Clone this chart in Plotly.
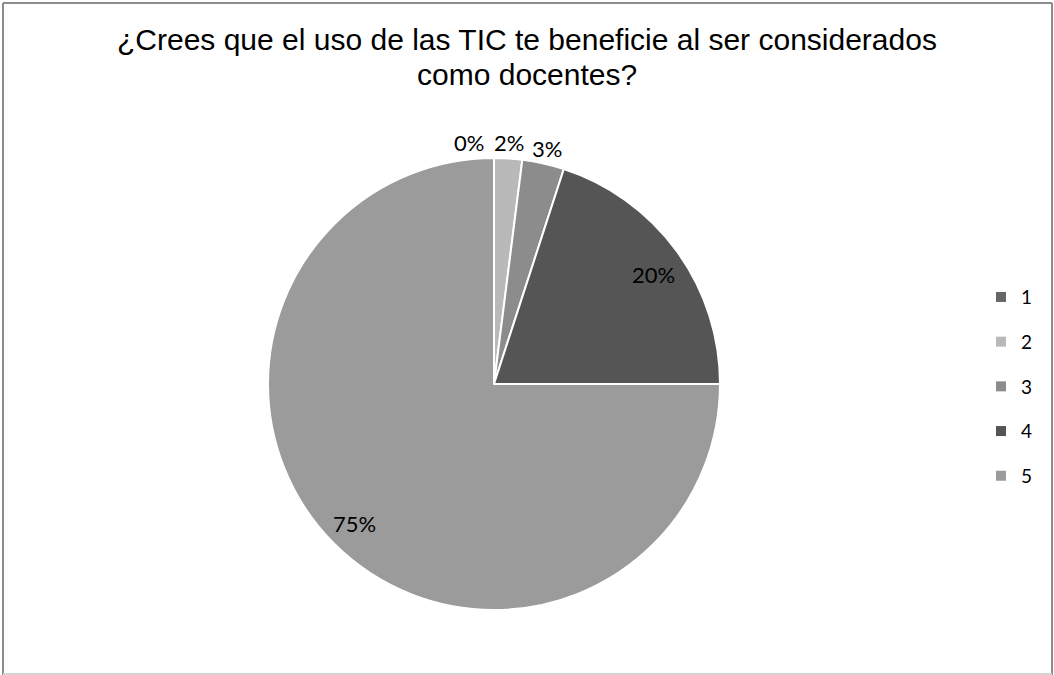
import math
import plotly.graph_objects as go

labels = ["1", "2", "3", "4", "5"]
values = [0, 2, 3, 20, 75]
colors = ["#666666", "#b9b9b9", "#8c8c8c", "#555555", "#9b9b9b"]
label_outside = [True, True, True, False, False]

title_lines = ["¿Crees que el uso de las TIC te beneficie al ser considerados",
               "como docentes?"]

W, H = 1054, 675
cx, cy, R = 494, 384, 226   # pie centre and radius in px (from top-left)

fig = go.Figure()

fig.add_trace(go.Pie(
    labels=labels, values=values, sort=False, direction="clockwise", rotation=0,
    marker=dict(colors=colors, line=dict(color="white", width=2)),
    textinfo="none", showlegend=False, hoverinfo="label+percent",
    domain=dict(x=[(cx - R) / W, (cx + R) / W],
                y=[(H - cy - R) / H, (H - cy + R) / H]),
))

# legend entries, one group each so they can be spaced like the original
for lab, col in zip(labels, colors):
    fig.add_trace(go.Scatter(
        x=[None], y=[None], mode="markers", name=lab, legendgroup=lab,
        marker=dict(symbol="square", size=10, color=col),
    ))

# data labels placed along each slice's mid angle
total = sum(values)
annotations = []
cum = 0
for v, out in zip(values, label_outside):
    mid = (cum + v / 2) / total * 2 * math.pi
    cum += v
    d = R * 1.07 if out else R * 0.87
    px = cx + d * math.sin(mid)
    py = cy - d * math.cos(mid)
    annotations.append(dict(
        x=px / W, y=(H - py) / H, xref="paper", yref="paper",
        text=f"{v / total:.0%}", showarrow=False,
        xanchor="center", yanchor="middle",
        xshift=-25 if v == 0 else 0,
        yshift=-6 if not out and mid < math.pi else 0,
        font=dict(family="Lato", size=22, color="black"),
    ))

for txt, ty in zip(title_lines, [40, 74]):
    annotations.append(dict(
        x=527 / W, y=(H - ty) / H, xref="paper", yref="paper",
        text=txt, showarrow=False, xanchor="center", yanchor="middle",
        font=dict(family="Liberation Sans, Arial", size=30, color="black"),
    ))

frame = "#8c8c8c"
fig.update_layout(
    width=W, height=H,
    margin=dict(l=0, r=0, t=0, b=0),
    paper_bgcolor="white", plot_bgcolor="white",
    xaxis=dict(visible=False), yaxis=dict(visible=False),
    annotations=annotations,
    legend=dict(x=981 / W, y=0.588, xanchor="left", yanchor="top",
                traceorder="grouped", tracegroupgap=17,
                font=dict(family="Lato", size=19, color="black"),
                itemwidth=30),
    shapes=[
        dict(type="line", xref="paper", yref="paper", x0=3 / W, x1=3 / W,
             y0=0, y1=(H - 3) / H, line=dict(color=frame, width=2)),
        dict(type="line", xref="paper", yref="paper", x0=3 / W, x1=(W - 2) / W,
             y0=(H - 3) / H, y1=(H - 3) / H, line=dict(color=frame, width=2)),
        dict(type="line", xref="paper", yref="paper", x0=(W - 2) / W, x1=(W - 2) / W,
             y0=0, y1=(H - 3) / H, line=dict(color=frame, width=2)),
        dict(type="line", xref="paper", yref="paper", x0=3 / W, x1=(W - 2) / W,
             y0=1 / H, y1=1 / H, line=dict(color="#d4d4d4", width=2)),
    ],
)

fig.write_html("out.html", config={"displayModeBar": False},
               post_script="document.body.style.margin='0';")
